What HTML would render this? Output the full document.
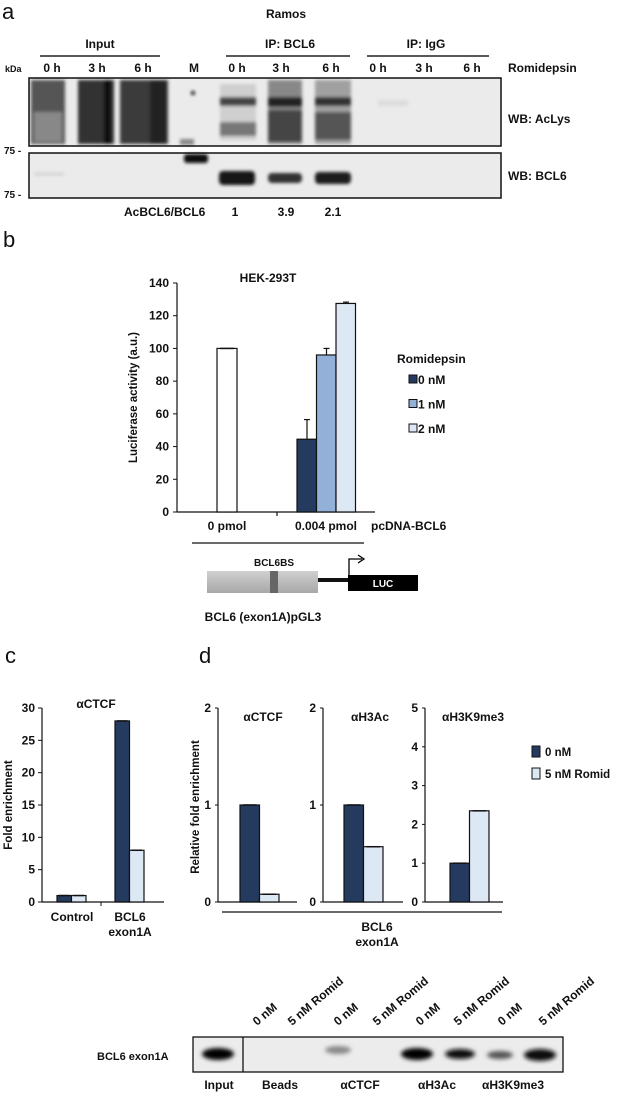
<!DOCTYPE html>
<html><head><meta charset="utf-8"><style>
html,body{margin:0;padding:0;background:#fff}
svg{display:block}
text{font-family:"Liberation Sans",Arial,sans-serif;font-weight:bold;font-size:12px;fill:#111}
.n{font-weight:normal}
</style></head><body>
<svg id="fig" width="618" height="1094" viewBox="0 0 618 1094" xmlns="http://www.w3.org/2000/svg">
<defs>
<filter id="bl" x="-50%" y="-50%" width="200%" height="200%"><feGaussianBlur stdDeviation="2"/></filter>
<filter id="bl1" x="-50%" y="-50%" width="200%" height="200%"><feGaussianBlur stdDeviation="1.5"/></filter>
<linearGradient id="gg" x1="0" y1="0" x2="0" y2="1"><stop offset="0" stop-color="#d0d0d0"/><stop offset="0.5" stop-color="#bbb"/><stop offset="1" stop-color="#a8a8a8"/></linearGradient>
</defs>

<!-- Panel a -->
<g>
<text x="2" y="19" class="n" style="font-size:22px">a</text>
<text x="286" y="18" text-anchor="middle">Ramos</text>
<text x="100" y="48" text-anchor="middle">Input</text>
<line x1="40" y1="56" x2="160" y2="56" stroke="#222" stroke-width="1.5"/>
<text x="290" y="48" text-anchor="middle">IP: BCL6</text>
<line x1="226" y1="56" x2="350" y2="56" stroke="#222" stroke-width="1.5"/>
<text x="426" y="48" text-anchor="middle">IP: IgG</text>
<line x1="367" y1="56" x2="489" y2="56" stroke="#222" stroke-width="1.5"/>
<g>
<text x="5" y="72" style="font-size:9px">kDa</text>
<text x="52" y="72" text-anchor="middle">0 h</text>
<text x="97" y="72" text-anchor="middle">3 h</text>
<text x="143" y="72" text-anchor="middle">6 h</text>
<text x="194" y="72" text-anchor="middle">M</text>
<text x="237" y="72" text-anchor="middle">0 h</text>
<text x="281" y="72" text-anchor="middle">3 h</text>
<text x="331" y="72" text-anchor="middle">6 h</text>
<text x="378" y="72" text-anchor="middle">0 h</text>
<text x="424" y="72" text-anchor="middle">3 h</text>
<text x="472" y="72" text-anchor="middle">6 h</text>
<text x="508" y="72">Romidepsin</text>
</g>
<g>
<rect x="29" y="78" width="472" height="68" fill="#ebebeb"/>
<g filter="url(#bl1)">
<rect x="31" y="80" width="34" height="64" fill="#555"/>
<rect x="34" y="112" width="28" height="30" fill="#888"/>
<rect x="78" y="80" width="36" height="64" fill="#333"/>
<rect x="104" y="80" width="7" height="64" fill="#111"/>
<rect x="120" y="80" width="48" height="64" fill="#3a3a3a"/>
<rect x="150" y="80" width="16" height="64" fill="#222"/>
<rect x="220" y="84" width="36" height="56" fill="#cfcfcf"/>
<rect x="220" y="97" width="36" height="9" fill="#444"/>
<rect x="220" y="122" width="36" height="14" fill="#777"/>
<rect x="268" y="80" width="34" height="64" fill="#888"/>
<rect x="268" y="97" width="34" height="10" fill="#222"/>
<rect x="268" y="110" width="34" height="32" fill="#444"/>
<rect x="315" y="80" width="36" height="64" fill="#a0a0a0"/>
<rect x="315" y="97" width="36" height="9" fill="#333"/>
<rect x="315" y="112" width="36" height="28" fill="#555"/>
<rect x="378" y="100" width="30" height="6" fill="#dcdcdc"/>
<rect x="180" y="139" width="14" height="6" fill="#888"/>
<circle cx="193" cy="93" r="2" fill="#111"/>
</g>
<rect x="29" y="78" width="472" height="68" fill="none" stroke="#111" stroke-width="1.5"/>
</g>
<text x="4" y="154" style="font-size:10px">75 -</text>
<g>
<rect x="29" y="153" width="472" height="45" fill="#ebebeb"/>
<g filter="url(#bl1)">
<rect x="184" y="154" width="24" height="9" rx="3" fill="#111"/>
<rect x="219" y="171" width="36" height="14" rx="4" fill="#151515"/>
<rect x="268" y="173" width="34" height="10" rx="4" fill="#333"/>
<rect x="315" y="172" width="36" height="12" rx="4" fill="#1c1c1c"/>
<rect x="34" y="172" width="30" height="4" fill="#d8d8d8"/>
</g>
<rect x="29" y="153" width="472" height="45" fill="none" stroke="#111" stroke-width="1.5"/>
</g>
<text x="4" y="198" style="font-size:10px">75 -</text>
<text x="508" y="123">WB: AcLys</text>
<text x="508" y="180">WB: BCL6</text>
<text x="124" y="216">AcBCL6/BCL6</text>
<text x="235" y="216" text-anchor="middle">1</text>
<text x="286" y="216" text-anchor="middle">3.9</text>
<text x="333" y="216" text-anchor="middle">2.1</text>
</g>

<text x="3" y="247" class="n" style="font-size:22px">b</text>
<g id="chartB"></g>
<g>
<line x1="192" y1="543" x2="364" y2="543" stroke="#111" stroke-width="1.3"/>
<rect x="207" y="571" width="111" height="22" fill="url(#gg)"/>
<rect x="270" y="571" width="8" height="22" fill="#666"/>
<text x="274" y="566" text-anchor="middle" style="font-size:10px">BCL6BS</text>
<rect x="318" y="578" width="30" height="4" fill="#111"/>
<rect x="348" y="575" width="70" height="16" fill="#000"/>
<text x="383" y="587" text-anchor="middle" style="font-size:10px;fill:#fff">LUC</text>
<path d="M349 575 V559 H362" fill="none" stroke="#000" stroke-width="1.3"/>
<path d="M358 555 L364 559 L358 563" fill="none" stroke="#000" stroke-width="1.3"/>
<text x="263" y="621" text-anchor="middle">BCL6 (exon1A)pGL3</text>
</g>

<text x="5" y="663" class="n" style="font-size:22px">c</text>
<text x="199" y="663" class="n" style="font-size:22px">d</text>
<g id="chartC"></g>
<g id="chartD"></g>

<g>
<text x="97" y="1060" style="font-size:11px">BCL6 exon1A</text>
<rect x="193" y="1037" width="370" height="35" fill="#ececec"/>
<g filter="url(#bl)">
<ellipse cx="218" cy="1054" rx="16" ry="6" fill="#000"/>
<ellipse cx="338" cy="1050" rx="13" ry="4" fill="#888"/>
<ellipse cx="417" cy="1054" rx="16" ry="6" fill="#000"/>
<ellipse cx="460" cy="1054" rx="15" ry="5" fill="#111"/>
<ellipse cx="500" cy="1055" rx="13" ry="4" fill="#555"/>
<ellipse cx="540" cy="1055" rx="16" ry="6" fill="#111"/>
</g>
<rect x="193" y="1037" width="370" height="35" fill="none" stroke="#111" stroke-width="1.3"/>
<line x1="243" y1="1037" x2="243" y2="1072" stroke="#111" stroke-width="1.3"/>
<g style="font-size:11px">
<text transform="translate(257,1026) rotate(-40)">0 nM</text>
<text transform="translate(292,1026) rotate(-40)">5 nM Romid</text>
<text transform="translate(338,1026) rotate(-40)">0 nM</text>
<text transform="translate(377,1026) rotate(-40)">5 nM Romid</text>
<text transform="translate(420,1026) rotate(-40)">0 nM</text>
<text transform="translate(458,1026) rotate(-40)">5 nM Romid</text>
<text transform="translate(502,1026) rotate(-40)">0 nM</text>
<text transform="translate(543,1026) rotate(-40)">5 nM Romid</text>
</g>
<g style="font-size:11.5px">
<text x="219" y="1089" text-anchor="middle">Input</text>
<text x="280" y="1089" text-anchor="middle">Beads</text>
<text x="360" y="1089" text-anchor="middle">αCTCF</text>
<text x="437" y="1089" text-anchor="middle">αH3Ac</text>
<text x="513" y="1089" text-anchor="middle">αH3K9me3</text>
</g>
</g>
</svg>
<script>
// Panel b data
const bCategories = ["0 pmol", "0.004 pmol"];
const bSeriesNames = ["0 nM", "1 nM", "2 nM"];
const bControlValue = [100];
const bSeriesValues = [44.5, 96, 127.5];
const bSeriesErrors = [12, 4, 0.8];
const bTicks = [0, 20, 40, 60, 80, 100, 120, 140];
// Panel c data
const cCategories = ["Control", "BCL6 exon1A"];
const c0nM = [1, 28];
const c5nM = [1, 8];
const cTicks = [0, 5, 10, 15, 20, 25, 30];
// Panel d data
const dTitles = ["αCTCF", "αH3Ac", "αH3K9me3"];
const d0nM = [1, 1, 1];
const d5nM = [0.08, 0.57, 2.35];
const dMax = [2, 2, 5];

const NS = "http://www.w3.org/2000/svg";
function mk(parent, tag, attrs, txt) {
  const e = document.createElementNS(NS, tag);
  for (const k in attrs) e.setAttribute(k, attrs[k]);
  if (txt !== undefined) e.textContent = txt;
  parent.appendChild(e);
  return e;
}
const navy = "#243a5e", mid = "#93b0d8", light = "#dde8f5";

// ---- chart b
(function () {
  const g = document.getElementById("chartB");
  const x0 = 177, y0 = 512, yTop = 283, vmax = 140;
  const y = v => y0 - (v / vmax) * (y0 - yTop);
  mk(g, "line", {x1: x0, y1: yTop, x2: x0, y2: y0, stroke: "#111", "stroke-width": 1.2});
  mk(g, "line", {x1: x0, y1: y0, x2: 375, y2: y0, stroke: "#111", "stroke-width": 1.2});
  mk(g, "line", {x1: 277, y1: y0, x2: 277, y2: y0 + 4, stroke: "#111", "stroke-width": 1.2});
  bTicks.forEach(t => {
    mk(g, "line", {x1: x0 - 4, y1: y(t), x2: x0, y2: y(t), stroke: "#111"});
    const tx = mk(g, "text", {x: x0 - 8, y: y(t) + 4, "text-anchor": "end"}, t);
    
    
  });
  const yt = mk(g, "text", {transform: "translate(137," + (y0 + yTop) / 2 + ") rotate(-90)", "text-anchor": "middle", style: "font-size:11.5px"}, "Luciferase activity (a.u.)");
  
  
  mk(g, "text", {x: 268, y: 282, "text-anchor": "middle"}, "HEK-293T");
  const cb = mk(g, "rect", {x: 217, y: y(bControlValue[0]), width: 20, height: y0 - y(bControlValue[0]), fill: "#fff", stroke: "#111", "stroke-width": 1.2});
  
  
  mk(g, "line", {x1: 220, y1: y(bControlValue[0]), x2: 234, y2: y(bControlValue[0]), stroke: "#111", "stroke-width": 1.5});
  const cols = [navy, mid, light];
  bSeriesValues.forEach((v, i) => {
    const bx = 297 + i * 19.5;
    mk(g, "line", {x1: bx + 10, y1: y(v + bSeriesErrors[i]), x2: bx + 10, y2: y(v), stroke: "#111", "stroke-width": 1.2});
    mk(g, "line", {x1: bx + 7, y1: y(v + bSeriesErrors[i]), x2: bx + 13, y2: y(v + bSeriesErrors[i]), stroke: "#111", "stroke-width": 1.2});
    const r = mk(g, "rect", {x: bx, y: y(v), width: 19.5, height: y0 - y(v), fill: cols[i], stroke: "#111", "stroke-width": 1.2});
    
    
  });
  mk(g, "text", {x: 227, y: 530, "text-anchor": "middle"}, bCategories[0]);
  mk(g, "text", {x: 326, y: 530, "text-anchor": "middle"}, bCategories[1]);
  mk(g, "text", {x: 371, y: 530}, "pcDNA-BCL6");
  mk(g, "text", {x: 397, y: 363}, "Romidepsin");
  bSeriesNames.forEach((n, i) => {
    const ly = 375 + i * 24.5;
    const lr = mk(g, "rect", {x: 409, y: ly, width: 8, height: 8, fill: cols[i], stroke: "#111"});
    
    
    mk(g, "text", {x: 418, y: ly + 9}, n);
  });
})();

// ---- chart c
(function () {
  const g = document.getElementById("chartC");
  const x0 = 42, y0 = 902, yTop = 708, vmax = 30;
  const y = v => y0 - (v / vmax) * (y0 - yTop);
  mk(g, "line", {x1: x0, y1: yTop, x2: x0, y2: y0, stroke: "#111", "stroke-width": 1.2});
  mk(g, "line", {x1: x0, y1: y0, x2: 164, y2: y0, stroke: "#111", "stroke-width": 1.2});
  mk(g, "line", {x1: 101, y1: y0, x2: 101, y2: y0 + 4, stroke: "#111"});
  cTicks.forEach(t => {
    mk(g, "line", {x1: x0 - 4, y1: y(t), x2: x0, y2: y(t), stroke: "#111"});
    mk(g, "text", {x: x0 - 7, y: y(t) + 4, "text-anchor": "end"}, t);
  });
  const yt = mk(g, "text", {transform: "translate(12," + (y0 + yTop) / 2 + ") rotate(-90)", "text-anchor": "middle", style: "font-size:11.5px"}, "Fold enrichment");
  
  
  mk(g, "text", {x: 96, y: 708, "text-anchor": "middle"}, "αCTCF");
  const starts = [57, 115];
  const bw = 14.5;
  cCategories.forEach((c, i) => {
    [[c0nM[i], navy], [c5nM[i], light]].forEach(([v, col], j) => {
      const bx = starts[i] + j * bw;
      const r = mk(g, "rect", {x: bx, y: y(v), width: bw, height: y0 - y(v), fill: col, stroke: "#111", "stroke-width": 1.2});
      
      
      mk(g, "line", {x1: bx + 2, y1: y(v), x2: bx + bw - 2, y2: y(v), stroke: "#111", "stroke-width": 1.5});
    });
  });
  mk(g, "text", {x: 72, y: 921, "text-anchor": "middle"}, "Control");
  mk(g, "text", {x: 130, y: 921, "text-anchor": "middle"}, "BCL6");
  mk(g, "text", {x: 130, y: 936, "text-anchor": "middle"}, "exon1A");
})();

// ---- chart d
(function () {
  const g = document.getElementById("chartD");
  const axes = [218, 323, 425];
  const ends = [297, 403, 503];
  const offs = [22, 21, 25];
  const titleX = [263, 370, 473];
  const y0 = 902, yTop = 708, bw = 19.5;
  dTitles.forEach((title, k) => {
    const x0 = axes[k];
    const y = v => y0 - (v / dMax[k]) * (y0 - yTop);
    mk(g, "line", {x1: x0, y1: yTop, x2: x0, y2: y0, stroke: "#111", "stroke-width": 1.2});
    mk(g, "line", {x1: x0, y1: y0, x2: ends[k], y2: y0, stroke: "#111", "stroke-width": 1.2});
    for (let t = 0; t <= dMax[k]; t++) {
      mk(g, "line", {x1: x0 - 3, y1: y(t), x2: x0, y2: y(t), stroke: "#111"});
      mk(g, "text", {x: x0 - 7, y: y(t) + 4, "text-anchor": "end"}, t);
    }
    mk(g, "text", {x: titleX[k], y: 721, "text-anchor": "middle"}, title);
    [[d0nM[k], navy], [d5nM[k], light]].forEach(([v, col], j) => {
      const bx = x0 + offs[k] + j * bw;
      const r = mk(g, "rect", {x: bx, y: y(v), width: bw, height: y0 - y(v), fill: col, stroke: "#111", "stroke-width": 1.2});
      
      
      mk(g, "line", {x1: bx + 3, y1: y(v), x2: bx + bw - 3, y2: y(v), stroke: "#111", "stroke-width": 1.5});
    });
  });
  mk(g, "line", {x1: 222, y1: 912, x2: 502, y2: 912, stroke: "#111", "stroke-width": 1.2});
  mk(g, "text", {x: 377, y: 931, "text-anchor": "middle"}, "BCL6");
  mk(g, "text", {x: 377, y: 946, "text-anchor": "middle"}, "exon1A");
  const yt = mk(g, "text", {transform: "translate(199,807) rotate(-90)", "text-anchor": "middle", style: "font-size:11.5px"}, "Relative fold enrichment");
  
  
  [["0 nM", navy], ["5 nM Romid", light]].forEach(([n, col], i) => {
    const ly = 746 + i * 22;
    const lr = mk(g, "rect", {x: 532, y: ly, width: 8, height: 11, fill: col, stroke: "#111"});
    
    
    mk(g, "text", {x: 545, y: ly + 10, style: "font-size:11.5px"}, n);
  });
})();
</script>
</body></html>
